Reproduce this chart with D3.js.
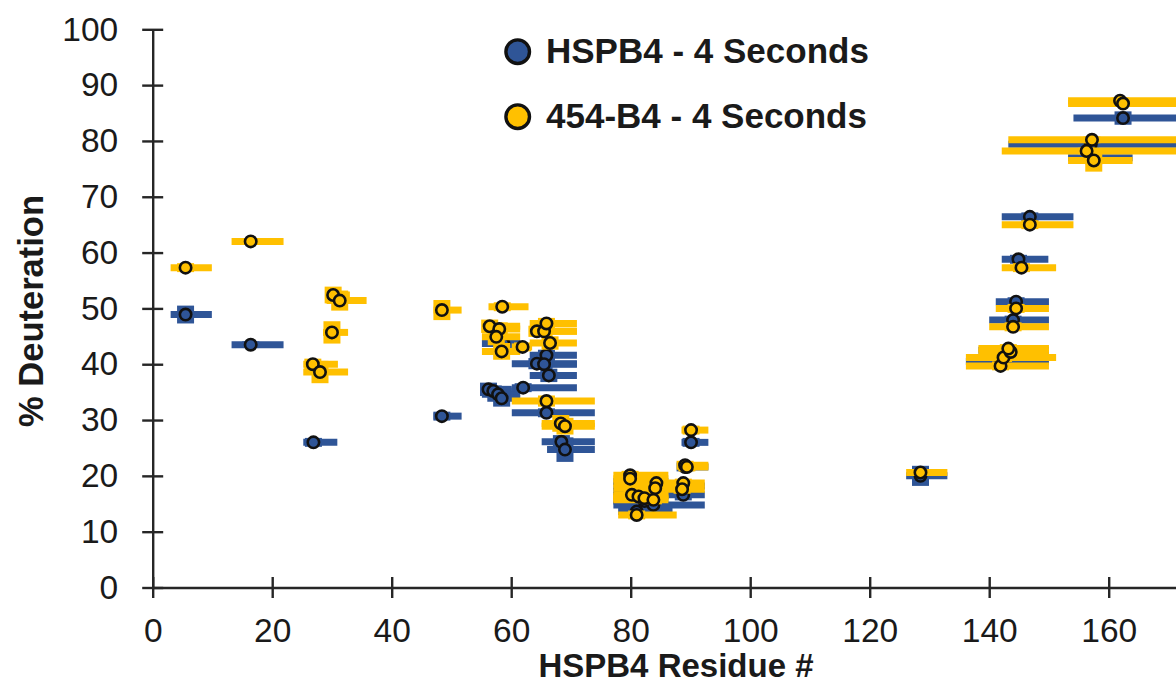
<!DOCTYPE html>
<html>
<head>
<meta charset="utf-8">
<script src="https://cdn.jsdelivr.net/npm/d3@7"></script>
<style>
  html, body { margin: 0; padding: 0; background: #fff; }
  svg { display: block; font-family: "Liberation Sans", Arial, sans-serif; }
</style>
</head>
<body>
<svg id="chart" width="1176" height="685"></svg>
<script>
// Peptide deuteration: residue position of marker, % deuteration,
// peptide start / end residue, and standard deviation.
const seriesNames = ["HSPB4 - 4 Seconds", "454-B4 - 4 Seconds"];
const seriesColors = ["#2F5597", "#FFC000"];

const hspb4 = [
  {x: 5.5,  y: 48.9, lo: 3.0,   hi: 9.9,   sd: 1.6},
  {x: 16.4, y: 43.5, lo: 13.2,  hi: 21.9,  sd: 0.6},
  {x: 26.9, y: 26.0, lo: 25.2,  hi: 30.9,  sd: 0.8},
  {x: 48.4, y: 30.7, lo: 47.0,  hi: 51.7,  sd: 0.8},
  {x: 56.2, y: 35.5, lo: 55.1,  hi: 60.1,  sd: 1.2},
  {x: 57.0, y: 35.2, lo: 55.1,  hi: 60.1,  sd: 1.0},
  {x: 57.8, y: 34.6, lo: 55.1,  hi: 61.5,  sd: 1.2},
  {x: 58.4, y: 33.9, lo: 56.0,  hi: 61.5,  sd: 1.5},
  {x: 58.7, y: 43.7, lo: 55.1,  hi: 61.5,  sd: 0.8},
  {x: 62.0, y: 35.8, lo: 60.1,  hi: 71.0,  sd: 0.8},
  {x: 65.9, y: 41.6, lo: 63.1,  hi: 71.0,  sd: 1.0},
  {x: 64.3, y: 40.1, lo: 60.1,  hi: 71.0,  sd: 1.0},
  {x: 65.5, y: 40.0, lo: 63.1,  hi: 71.0,  sd: 1.0},
  {x: 66.3, y: 38.0, lo: 63.1,  hi: 71.0,  sd: 1.2},
  {x: 65.9, y: 31.3, lo: 60.1,  hi: 74.0,  sd: 0.8},
  {x: 68.4, y: 26.1, lo: 65.1,  hi: 74.0,  sd: 1.2},
  {x: 69.0, y: 24.7, lo: 66.0,  hi: 74.0,  sd: 2.2},
  {x: 79.9, y: 19.0, lo: 77.1,  hi: 86.3,  sd: 0.8},
  {x: 79.9, y: 18.2, lo: 77.1,  hi: 92.4,  sd: 0.8},
  {x: 80.2, y: 16.5, lo: 77.1,  hi: 86.3,  sd: 0.8},
  {x: 82.3, y: 15.5, lo: 77.1,  hi: 86.3,  sd: 0.8},
  {x: 83.8, y: 14.8, lo: 77.1,  hi: 92.4,  sd: 1.0},
  {x: 84.1, y: 17.2, lo: 77.1,  hi: 86.3,  sd: 0.8},
  {x: 81.0, y: 13.6, lo: 77.9,  hi: 87.0,  sd: 0.8},
  {x: 88.8, y: 16.6, lo: 85.7,  hi: 92.4,  sd: 1.0},
  {x: 89.1, y: 21.6, lo: 88.5,  hi: 93.0,  sd: 0.8},
  {x: 90.1, y: 26.0, lo: 88.5,  hi: 93.0,  sd: 0.8},
  {x: 128.5, y: 20.0, lo: 126.1, hi: 133.0, sd: 1.8},
  {x: 142.0, y: 40.5, lo: 136.1, hi: 150.0, sd: 0.8},
  {x: 143.0, y: 42.5, lo: 138.2, hi: 150.0, sd: 0.8},
  {x: 144.0, y: 47.9, lo: 140.0, hi: 150.0, sd: 0.8},
  {x: 144.5, y: 51.2, lo: 141.1, hi: 150.0, sd: 0.8},
  {x: 144.9, y: 58.8, lo: 142.1, hi: 149.9, sd: 0.8},
  {x: 146.8, y: 66.4, lo: 142.1, hi: 154.1, sd: 0.8},
  {x: 157.0, y: 79.4, lo: 143.2, hi: 178.0, sd: 0.6},
  {x: 157.5, y: 77.0, lo: 153.2, hi: 164.0, sd: 1.2},
  {x: 162.4, y: 84.1, lo: 154.1, hi: 178.0, sd: 1.2}
];

const b454 = [
  {x: 5.5,  y: 57.3, lo: 3.0,   hi: 9.9,   sd: 0.8},
  {x: 16.4, y: 62.0, lo: 13.2,  hi: 21.9,  sd: 0.5},
  {x: 30.2, y: 52.4, lo: 29.1,  hi: 33.0,  sd: 1.5},
  {x: 31.3, y: 51.4, lo: 29.1,  hi: 35.8,  sd: 1.8},
  {x: 30.0, y: 45.7, lo: 28.5,  hi: 32.7,  sd: 2.0},
  {x: 26.8, y: 40.0, lo: 25.2,  hi: 31.0,  sd: 1.0},
  {x: 28.0, y: 38.6, lo: 25.2,  hi: 32.7,  sd: 2.0},
  {x: 48.4, y: 49.7, lo: 47.0,  hi: 51.7,  sd: 1.8},
  {x: 58.5, y: 50.3, lo: 56.2,  hi: 62.9,  sd: 0.8},
  {x: 56.4, y: 46.8, lo: 55.1,  hi: 61.5,  sd: 1.2},
  {x: 58.0, y: 46.3, lo: 55.1,  hi: 61.5,  sd: 1.2},
  {x: 57.5, y: 44.9, lo: 55.1,  hi: 61.5,  sd: 1.5},
  {x: 58.4, y: 42.3, lo: 55.1,  hi: 61.5,  sd: 1.5},
  {x: 61.9, y: 43.1, lo: 60.1,  hi: 63.5,  sd: 0.8},
  {x: 64.3, y: 45.9, lo: 63.1,  hi: 71.0,  sd: 1.0},
  {x: 65.5, y: 45.9, lo: 63.1,  hi: 71.0,  sd: 1.0},
  {x: 65.9, y: 47.3, lo: 63.1,  hi: 71.0,  sd: 1.0},
  {x: 66.5, y: 43.8, lo: 63.1,  hi: 71.0,  sd: 1.2},
  {x: 65.9, y: 33.4, lo: 60.1,  hi: 74.0,  sd: 1.0},
  {x: 68.3, y: 29.4, lo: 65.1,  hi: 74.0,  sd: 1.5},
  {x: 69.0, y: 28.9, lo: 65.1,  hi: 74.0,  sd: 1.5},
  {x: 79.9, y: 20.1, lo: 77.1,  hi: 86.3,  sd: 0.8},
  {x: 79.9, y: 19.5, lo: 77.1,  hi: 86.3,  sd: 0.8},
  {x: 80.2, y: 16.6, lo: 77.1,  hi: 86.3,  sd: 0.8},
  {x: 81.3, y: 16.3, lo: 77.1,  hi: 86.3,  sd: 0.8},
  {x: 82.3, y: 16.0, lo: 77.1,  hi: 86.3,  sd: 0.8},
  {x: 84.3, y: 18.7, lo: 77.1,  hi: 86.3,  sd: 0.8},
  {x: 84.1, y: 17.8, lo: 77.1,  hi: 86.3,  sd: 0.8},
  {x: 83.8, y: 15.7, lo: 77.1,  hi: 86.3,  sd: 0.8},
  {x: 81.0, y: 13.0, lo: 77.9,  hi: 87.7,  sd: 0.8},
  {x: 88.8, y: 18.7, lo: 85.7,  hi: 92.4,  sd: 0.8},
  {x: 88.6, y: 17.6, lo: 85.7,  hi: 92.4,  sd: 0.8},
  {x: 89.1, y: 21.9, lo: 88.5,  hi: 93.0,  sd: 0.8},
  {x: 89.4, y: 21.6, lo: 88.5,  hi: 93.0,  sd: 0.8},
  {x: 90.1, y: 28.2, lo: 88.5,  hi: 93.0,  sd: 0.8},
  {x: 128.5, y: 20.6, lo: 126.1, hi: 133.0, sd: 0.5},
  {x: 141.9, y: 39.7, lo: 136.1, hi: 150.0, sd: 0.8},
  {x: 142.4, y: 41.2, lo: 136.1, hi: 151.2, sd: 0.8},
  {x: 143.6, y: 42.2, lo: 138.2, hi: 150.0, sd: 0.8},
  {x: 143.2, y: 42.8, lo: 138.2, hi: 150.0, sd: 0.8},
  {x: 144.0, y: 46.7, lo: 140.0, hi: 150.0, sd: 0.8},
  {x: 144.5, y: 50.0, lo: 141.1, hi: 150.0, sd: 0.8},
  {x: 145.4, y: 57.3, lo: 142.1, hi: 151.2, sd: 0.8},
  {x: 146.8, y: 65.0, lo: 142.1, hi: 154.1, sd: 0.8},
  {x: 157.2, y: 80.2, lo: 143.2, hi: 178.0, sd: 0.6},
  {x: 156.3, y: 78.2, lo: 142.1, hi: 178.0, sd: 0.6},
  {x: 157.5, y: 76.5, lo: 153.2, hi: 164.0, sd: 2.0},
  {x: 161.9, y: 87.2, lo: 153.2, hi: 178.0, sd: 0.6},
  {x: 162.4, y: 86.7, lo: 153.2, hi: 178.0, sd: 0.6}
];

const xTicks = [0, 20, 40, 60, 80, 100, 120, 140, 160];
const yTicks = [0, 10, 20, 30, 40, 50, 60, 70, 80, 90, 100];
const xTitle = "HSPB4 Residue #";
const yTitle = "% Deuteration";

const svg = d3.select("#chart");
const axisColor = "#262626";
const textColor = "#1a1a1a";

const x = d3.scaleLinear().domain([0, 180]).range([152.7, 1228.2]);
const y = d3.scaleLinear().domain([0, 100]).range([587.5, 29.3]);

// Axes with ticks that cross the axis line
const yAxis = svg.append("g")
  .attr("transform", `translate(${x(0)},0)`)
  .call(d3.axisLeft(y).tickValues(yTicks).tickSizeInner(10.5).tickSizeOuter(0).tickPadding(24));
yAxis.selectAll(".tick line").attr("x1", 10.5);

const xAxis = svg.append("g")
  .attr("transform", `translate(0,${y(0)})`)
  .call(d3.axisBottom(x).tickValues(xTicks).tickSizeInner(10.5).tickSizeOuter(0).tickPadding(20));
xAxis.selectAll(".tick line").attr("y1", -10.5);

[yAxis, xAxis].forEach(g => {
  g.select(".domain").attr("stroke", axisColor).attr("stroke-width", 2.4);
  g.selectAll(".tick line").attr("stroke", axisColor).attr("stroke-width", 2.4);
  g.selectAll(".tick text")
    .attr("fill", textColor)
    .style("font-size", "33.5px")
    .style("font-family", "'Liberation Sans', Arial, sans-serif");
});

// Axis titles
svg.append("text")
  .attr("x", 676).attr("y", 677)
  .attr("text-anchor", "middle")
  .style("font-size", "33px").style("font-weight", "bold")
  .attr("fill", textColor)
  .text(xTitle);

svg.append("text")
  .attr("transform", `translate(43,311) rotate(-90)`)
  .attr("text-anchor", "middle")
  .style("font-size", "34.5px").style("font-weight", "bold")
  .attr("fill", textColor)
  .text(yTitle);

// Data: peptide span bars, deviation bars, then markers, series by series
const plot = svg.append("g");
[hspb4, b454].forEach((data, i) => {
  const color = seriesColors[i];
  const g = plot.append("g");
  g.selectAll("line.span").data(data).join("line")
    .attr("class", "span")
    .attr("x1", d => x(d.lo)).attr("x2", d => x(d.hi))
    .attr("y1", d => y(d.y)).attr("y2", d => y(d.y))
    .attr("stroke", color).attr("stroke-width", 7);
  g.selectAll("line.dev").data(data).join("line")
    .attr("class", "dev")
    .attr("x1", d => x(d.x)).attr("x2", d => x(d.x))
    .attr("y1", d => y(d.y - d.sd)).attr("y2", d => y(d.y + d.sd))
    .attr("stroke", color).attr("stroke-width", 17);
  g.selectAll("circle").data(data).join("circle")
    .attr("cx", d => x(d.x)).attr("cy", d => y(d.y))
    .attr("r", 5.7)
    .attr("fill", color)
    .attr("stroke", "#111").attr("stroke-width", 2.6);
});

// Legend
const legend = svg.append("g");
seriesNames.forEach((name, i) => {
  const cy = 51.7 + i * 65;
  legend.append("circle")
    .attr("cx", 517.7).attr("cy", cy).attr("r", 11.8)
    .attr("fill", seriesColors[i])
    .attr("stroke", "#111").attr("stroke-width", 3.4);
  legend.append("text")
    .attr("x", 546).attr("y", cy + 11.5)
    .style("font-size", "35px").style("font-weight", "bold")
    .attr("fill", textColor)
    .text(name);
});
</script>
</body>
</html>
